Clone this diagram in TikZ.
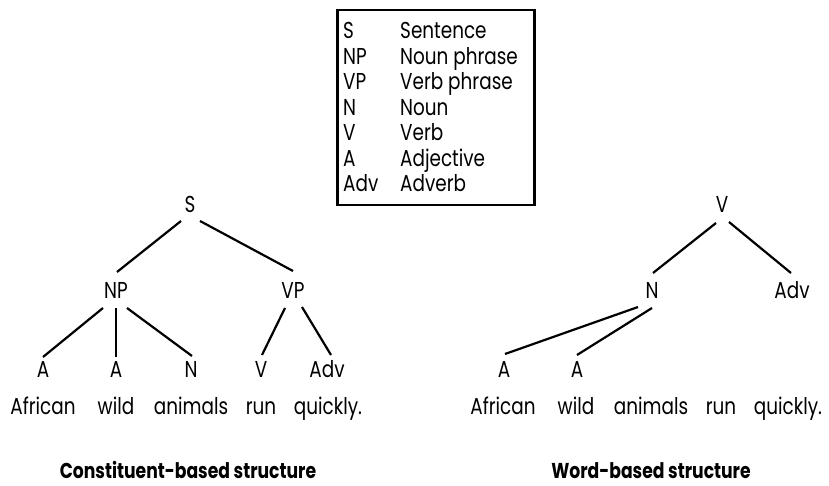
\documentclass[tikz,border=0pt]{standalone}
\usepackage{fontspec}
\setmainfont{Poppins}[FakeStretch=0.8]
\usetikzlibrary{calc}
\begin{document}
\begin{tikzpicture}[x=1pt,y=-1pt,
  lbl/.style={anchor=base,inner sep=0pt,font=\fontsize{23}{23}\selectfont},
  ttl/.style={anchor=base,inner sep=0pt,font=\fontsize{21.5}{21.5}\selectfont\bfseries},
  leg/.style={anchor=base west,inner sep=0pt,font=\fontsize{23}{23}\selectfont},
  edge/.style={line width=2.2pt},
  legbox/.style={draw,line width=2.5pt,anchor=north west,inner sep=0pt,minimum width=197pt,minimum height=195pt}]
\useasboundingbox (0,0) rectangle (829,486);

% legend
\node[legbox] (legend) at (336,9) {};
\node[leg] (k1) at (343,39) {S};     \node[leg] (d1) at (400,39) {Sentence};
\node[leg] (k2) at (343,64.5) {NP};  \node[leg] (d2) at (400,64.5) {Noun phrase};
\node[leg] (k3) at (343,90) {VP};    \node[leg] (d3) at (400,90) {Verb phrase};
\node[leg] (k4) at (343,115.5) {N};  \node[leg] (d4) at (400,115.5) {Noun};
\node[leg] (k5) at (343,141) {V};    \node[leg] (d5) at (400,141) {Verb};
\node[leg] (k6) at (343,166.5) {A};  \node[leg] (d6) at (400,166.5) {Adjective};
\node[leg] (k7) at (343,192) {Adv};  \node[leg] (d7) at (400,192) {Adverb};

% constituent-based tree
\node[lbl] (S) at (190,213) {S};
\node[lbl] (NP) at (116,298) {NP};
\node[lbl] (VP) at (293,298) {VP};
\node[lbl] (LA1) at (43,377) {A};
\node[lbl] (LA2) at (116,377) {A};
\node[lbl] (LN) at (191,377) {N};
\node[lbl] (LV) at (261,377) {V};
\node[lbl] (LAdv) at (327,377) {Adv};

\draw[edge] ([shift={(-9,8)}]S.base) -- ([shift={(1,-26)}]NP.base);
\draw[edge] ([shift={(10,8)}]S.base) -- ([shift={(0,-27)}]VP.base);
\draw[edge] ([shift={(-13,10)}]NP.base) -- ([shift={(0,-20)}]LA1.base);
\draw[edge] ([shift={(0,10)}]NP.base) -- ([shift={(0,-20)}]LA2.base);
\draw[edge] ([shift={(11,10)}]NP.base) -- ([shift={(1,-21)}]LN.base);
\draw[edge] ([shift={(-8,10)}]VP.base) -- ([shift={(1,-22)}]LV.base);
\draw[edge] ([shift={(9,9)}]VP.base) -- ([shift={(4,-22)}]LAdv.base);

\node[lbl] (w1) at (43,414) {African};
\node[lbl] (w2) at (116,414) {wild};
\node[lbl] (w3) at (191,414) {animals};
\node[lbl] (w4) at (261,414) {run};
\node[lbl] (w5) at (328,414) {quickly.};

% word-based tree
\node[lbl] (RV) at (722,213) {V};
\node[lbl] (RN) at (652,298) {N};
\node[lbl] (RAdv) at (792,298) {Adv};
\node[lbl] (RA1) at (504,377) {A};
\node[lbl] (RA2) at (577,377) {A};

\draw[edge] ([shift={(-6,10)}]RV.base) -- ([shift={(1,-25)}]RN.base);
\draw[edge] ([shift={(7,9)}]RV.base) -- ([shift={(-1,-25)}]RAdv.base);
\draw[edge] ([shift={(-14,9)}]RN.base) -- ([shift={(1,-23)}]RA1.base);
\draw[edge] ([shift={(0,10)}]RN.base) -- ([shift={(0,-22)}]RA2.base);

\node[lbl] (r1) at (503,414) {African};
\node[lbl] (r2) at (576,414) {wild};
\node[lbl] (r3) at (651,414) {animals};
\node[lbl] (r4) at (721,414) {run};
\node[lbl] (r5) at (788,414) {quickly.};

% titles
\node[ttl] (t1) at (188,478) {Constituent-based structure};
\node[ttl] (t2) at (651,478) {Word-based structure};
\end{tikzpicture}
\end{document}
